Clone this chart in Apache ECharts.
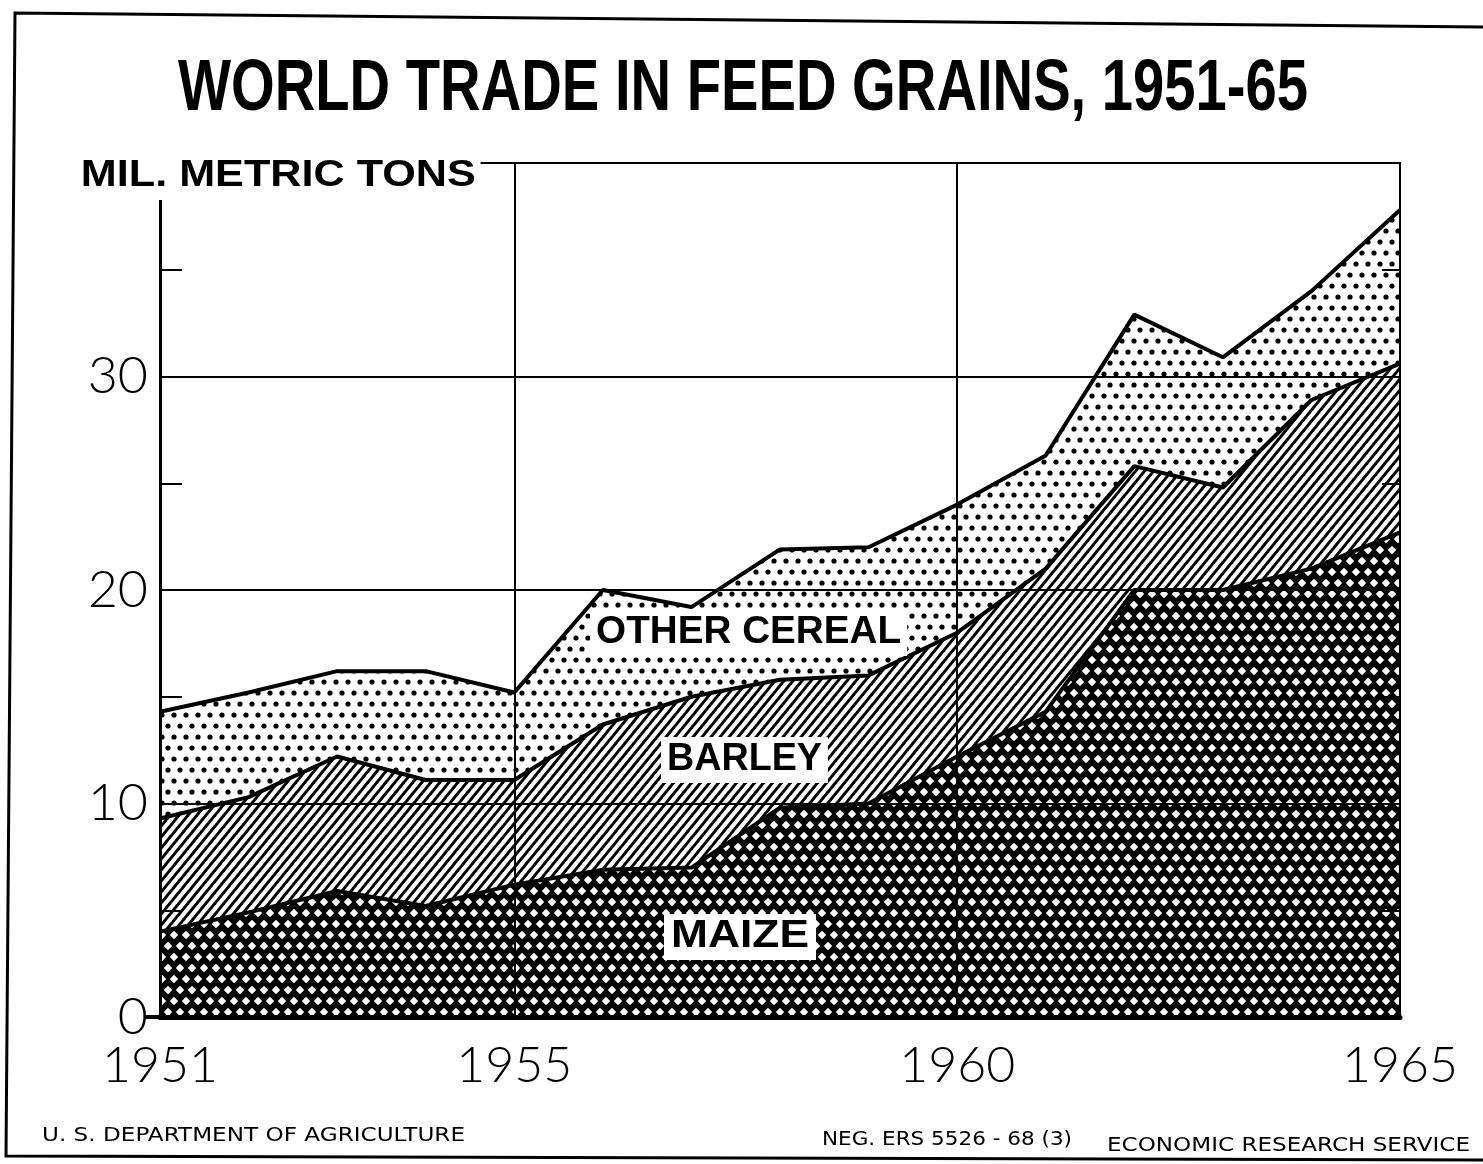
<!DOCTYPE html>
<html>
<head>
<meta charset="utf-8">
<script src="https://cdn.jsdelivr.net/npm/echarts@6/dist/echarts.min.js"></script>
<style>
  html, body { margin: 0; padding: 0; background: #fff; }
  #chart { width: 1483px; height: 1164px; }
</style>
</head>
<body>
<div id="chart"></div>
<script>
// data, million metric tons (layer thickness, stacked bottom to top)
var years = ['1951', '1952', '1953', '1954', '1955', '1956', '1957', '1958',
             '1959', '1960', '1961', '1962', '1963', '1964', '1965'];
var maize       = [4.0, 4.9, 5.9, 5.2, 6.2, 6.9, 7.0, 9.8, 10.0, 12.2, 14.3, 20.0, 20.0, 21.0, 22.7];
var barley      = [5.3, 5.4, 6.3, 5.9, 4.9, 6.8, 8.0, 6.0, 6.0, 5.8, 6.7, 5.8, 4.8, 7.9, 7.9];
var otherCereal = [5.0, 4.9, 4.0, 5.1, 4.1, 6.3, 4.2, 6.1, 6.0, 6.0, 5.3, 7.1, 6.1, 5.1, 7.2];
var yearLabels  = ['1951', '1955', '1960', '1965'];
var yLabels     = [0, 10, 20, 30];

// little canvas tiles for the hatching
function tile(w, h, draw) {
  var c = document.createElement('canvas');
  c.width = w; c.height = h;
  draw(c.getContext('2d'), w, h);
  return c;
}
function diamond(ctx, x, y, r) {
  ctx.beginPath();
  ctx.moveTo(x, y - r); ctx.lineTo(x + r, y); ctx.lineTo(x, y + r); ctx.lineTo(x - r, y);
  ctx.closePath(); ctx.fill();
}
function stagger(w, h) { return [[0, 0], [w, 0], [0, h], [w, h], [w / 2, h / 2]]; }

var crossFill = tile(12, 22, function (ctx, w, h) {
  ctx.fillStyle = '#000'; ctx.fillRect(0, 0, w, h);
  ctx.fillStyle = '#fff';
  stagger(w, h).forEach(function (p) { diamond(ctx, p[0], p[1], 4.2); });
});
var hatchFill = tile(9, 11, function (ctx, w, h) {
  ctx.fillStyle = '#fff'; ctx.fillRect(0, 0, w, h);
  ctx.strokeStyle = '#000'; ctx.lineWidth = 3;
  for (var k = -1; k <= 1; k++) {
    ctx.beginPath();
    ctx.moveTo(k * w - w, 2 * h); ctx.lineTo(k * w + 2 * w, -h);
    ctx.stroke();
  }
});
var dotFill = tile(12, 22, function (ctx, w, h) {
  ctx.fillStyle = '#fff'; ctx.fillRect(0, 0, w, h);
  ctx.fillStyle = '#000';
  stagger(w, h).forEach(function (p) {
    ctx.beginPath(); ctx.arc(p[0], p[1], 2.6, 0, Math.PI * 2); ctx.fill();
  });
});

// squeeze/stretch a text to the width it has on the original
var measureCtx = document.createElement('canvas').getContext('2d');
function fitScale(text, font, width) {
  measureCtx.font = font;
  return width / measureCtx.measureText(text).width;
}

var numFont = 'Lato';
var chart = echarts.init(document.getElementById('chart'));

function layer(name, values, fill) {
  return {
    name: name,
    type: 'line',
    stack: 'grain',
    data: values,
    showSymbol: false,
    color: '#000',
    lineStyle: { color: '#000', width: 4 },
    areaStyle: { color: { image: fill, repeat: 'repeat' }, opacity: 1 }
  };
}

var option = {
  animation: false,
  backgroundColor: '#fff',
  grid: { left: 160, right: 83, top: 163, bottom: 147, show: true, borderColor: '#000', borderWidth: 2, backgroundColor: 'transparent' },
  xAxis: {
    type: 'category',
    data: years,
    boundaryGap: false,
    z: 5,
    axisLine: { lineStyle: { color: '#000', width: 5 } },
    axisTick: { show: false },
    axisLabel: {
      interval: function (i, v) { return yearLabels.indexOf(v) >= 0; },
      fontFamily: numFont, fontWeight: 300, fontSize: 50, color: '#000', margin: 24
    },
    splitLine: {
      show: true,
      interval: function (i, v) { return v === '1955' || v === '1960'; },
      lineStyle: { color: '#000', width: 2 }
    }
  },
  yAxis: [{
    type: 'value', min: 0, max: 40, interval: 10, z: 5,
    axisLine: { show: true, lineStyle: { color: '#000', width: 3 } },
    axisTick: { show: false, inside: true },
    minorTick: { show: true, splitNumber: 2, length: 22, lineStyle: { color: '#000', width: 2 } },
    axisLabel: {
      formatter: function (v) { return yLabels.indexOf(v) >= 0 ? String(v) : ''; },
      fontFamily: numFont, fontWeight: 300, fontSize: 52, color: '#000', margin: 12
    },
    splitLine: { lineStyle: { color: '#000', width: 2 } }
  }, {
    type: 'value', min: 0, max: 40, interval: 10, position: 'right', z: 5,
    axisLine: { show: true, lineStyle: { color: '#000', width: 2 } },
    axisTick: { show: false, inside: true },
    minorTick: { show: true, splitNumber: 2, length: 18, lineStyle: { color: '#000', width: 2 } },
    axisLabel: { show: false },
    splitLine: { show: false }
  }],
  series: [
    layer('Maize', maize, crossFill),
    layer('Barley', barley, hatchFill),
    layer('Other cereal', otherCereal, dotFill)
  ]
};
chart.setOption(option);

// zero tick sticking out left of the axis
var zero = chart.convertToPixel({ gridIndex: 0 }, [0, 0]);

function fitText(text, x, y, width, font, extra) {
  var el = {
    type: 'text', z: 100, x: x, y: y, scaleX: fitScale(text, font, width),
    style: { text: text, fill: '#000', font: font, align: 'left', verticalAlign: 'middle' }
  };
  for (var k in extra) el.style[k] = extra[k];
  return el;
}
function boxLabel(text, x, y, width) {
  var font = 'bold 38px "Liberation Sans", "DejaVu Sans", sans-serif';
  return fitText(text, x, y, width, font, { backgroundColor: '#fff', padding: [5, 6, 3, 6] });
}

var titleFont = 'bold 73px "Liberation Sans", "DejaVu Sans", sans-serif';
var unitFont = 'bold 36px "Liberation Sans", "DejaVu Sans", sans-serif';
var footFont = '19px "DejaVu Sans", sans-serif';

chart.setOption({
  graphic: [
    { type: 'polyline', z: 100, shape: { points: [[1483, 27], [15, 13], [6, 1156], [1483, 1160]] },
      style: { stroke: '#000', lineWidth: 3, fill: null } },
    { type: 'line', z: 100, shape: { x1: zero[0] - 16, y1: zero[1], x2: zero[0], y2: zero[1] },
      style: { stroke: '#000', lineWidth: 4 } },
    fitText('WORLD TRADE IN FEED GRAINS, 1951-65', 178, 90, 1130, titleFont),
    fitText('MIL. METRIC TONS', 76, 176, 395, unitFont,
      { backgroundColor: '#fff', padding: [8, 4, 4, 4] }),
    boxLabel('OTHER CEREAL', 590, 633, 305),
    boxLabel('BARLEY', 661, 760, 155),
    boxLabel('MAIZE', 664, 937, 138),
    fitText('U. S. DEPARTMENT OF AGRICULTURE', 42, 1136, 423, footFont),
    fitText('NEG. ERS 5526 - 68 (3)', 822, 1140, 250, footFont),
    fitText('ECONOMIC RESEARCH SERVICE', 1107, 1146, 363, footFont)
  ]
});
</script>
</body>
</html>
